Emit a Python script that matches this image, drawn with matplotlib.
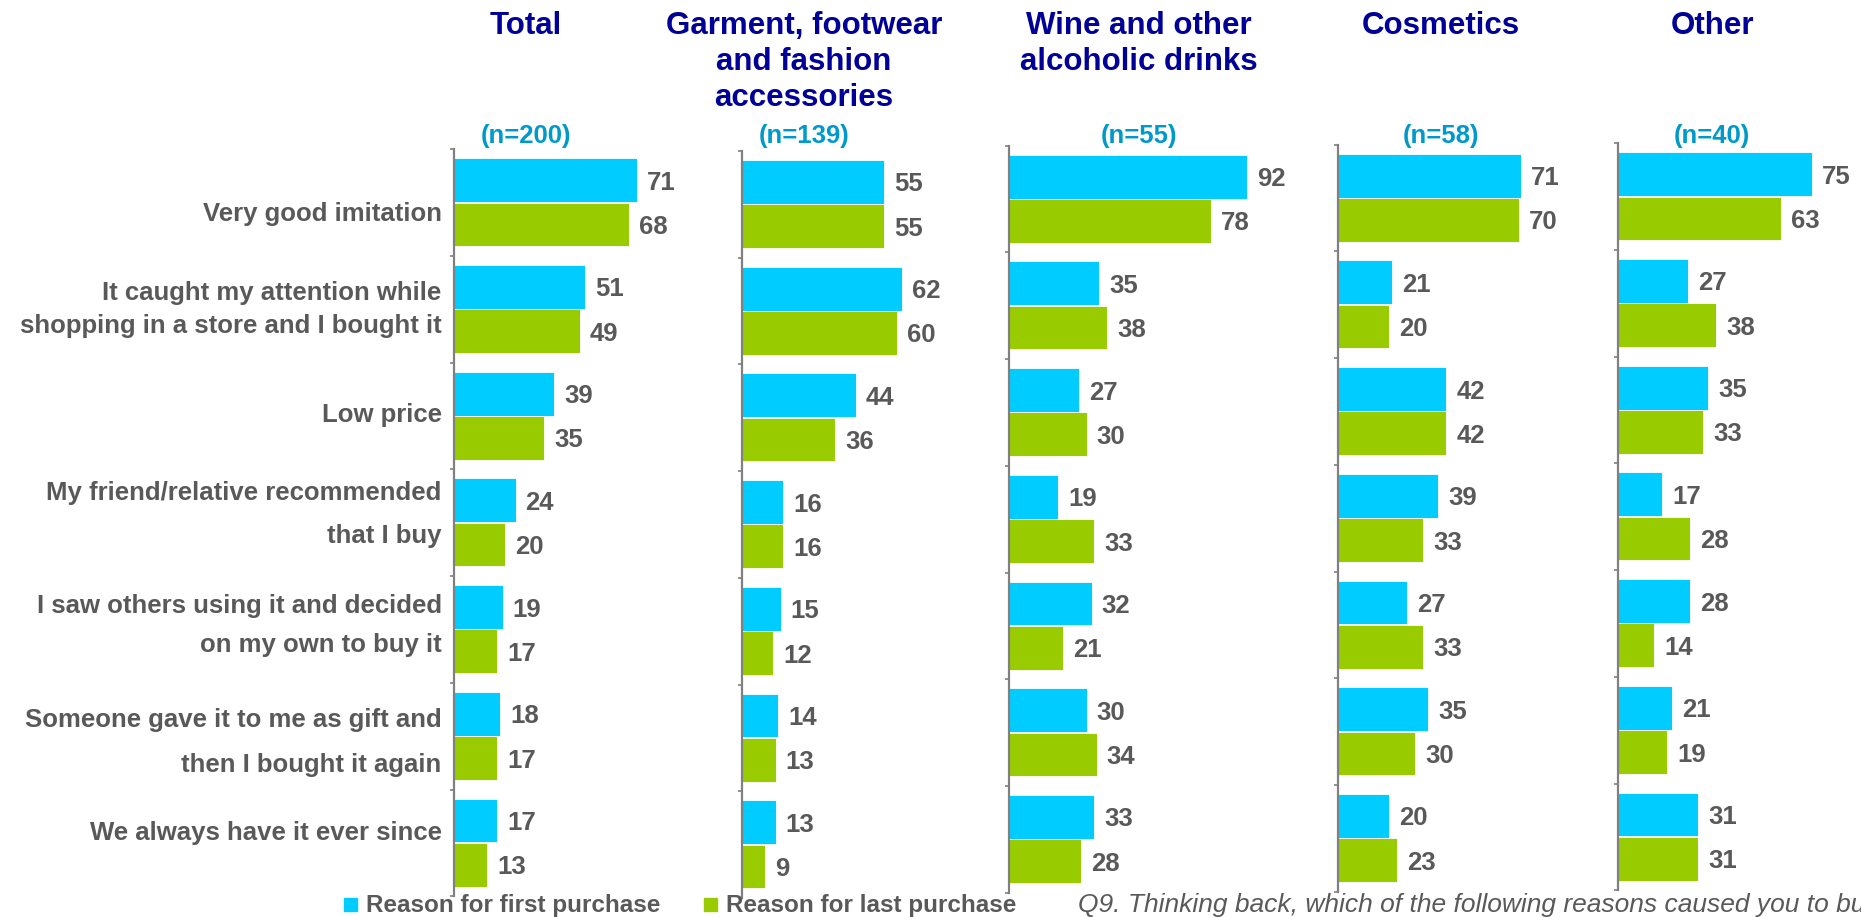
import numpy as np
import matplotlib
matplotlib.use("Agg")
import matplotlib.pyplot as plt
from matplotlib.patches import Rectangle

plt.rcParams["font.family"] = ["Liberation Sans", "DejaVu Sans"]

# ── Data ─────────────────────────────────────────────────────────────
REASONS = [
    ["Very good imitation"],
    ["It caught my attention while", "shopping in a store and I bought it"],
    ["Low price"],
    ["My friend/relative recommended", "that I buy"],
    ["I saw others using it and decided", "on my own to buy it"],
    ["Someone gave it to me as gift and", "then I bought it again"],
    ["We always have it ever since"],
]
PANELS = ["Total",
          "Garment, footwear\nand fashion\naccessories",
          "Wine and other\nalcoholic drinks",
          "Cosmetics",
          "Other"]
SAMPLE_N = [200, 139, 55, 58, 40]
FIRST = [
    [71, 51, 39, 24, 19, 18, 17],
    [55, 62, 44, 16, 15, 14, 13],
    [92, 35, 27, 19, 32, 30, 33],
    [71, 21, 42, 39, 27, 35, 20],
    [75, 27, 35, 17, 28, 21, 31],
]
LAST = [
    [68, 49, 35, 20, 17, 17, 13],
    [55, 60, 36, 16, 12, 13, 9],
    [78, 38, 30, 33, 21, 34, 28],
    [70, 20, 42, 33, 33, 30, 23],
    [63, 38, 33, 28, 14, 19, 31],
]
SERIES = ["Reason for first purchase", "Reason for last purchase"]
FOOTNOTE = "Q9. Thinking back, which of the following reasons caused you to buy counterfeit products?"

# ── Style / layout (pixels of the 1861x917 canvas) ───────────────────
BLUE, GREEN = "#00CCFF", "#99CC00"
NAVY, NBLUE, GREY = "#000099", "#0099CC", "#595959"
W, H = 1861, 917
AX_X = [453.5, 742, 1009, 1337.7, 1618]
AX_TOP = [149.3, 151, 145.7, 144.7, 143.3]
HEAD_X = [526, 804, 1139, 1441, 1712]
GROUP_PX = 106.7
PX_PER_UNIT = 2.584
AX_W = 260
LABEL_BASE = [[220.7], [300, 332.7], [421.7], [500, 542.7],
              [613.3, 651.7], [726.7, 771.7], [840]]

fig = plt.figure(figsize=(W / 100, H / 100), dpi=100)

n_rows = len(REASONS)
y = np.arange(n_rows)
for k in range(len(PANELS)):
    ax_h = n_rows * GROUP_PX
    ax = fig.add_axes([AX_X[k] / W, 1 - (AX_TOP[k] + ax_h) / H, AX_W / W, ax_h / H])
    ax.set_xlim(0, AX_W / PX_PER_UNIT)
    ax.set_ylim(n_rows, 0)
    ax.barh(y + 0.29, FIRST[k], height=0.41, color=BLUE, edgecolor="white", linewidth=0.6)
    ax.barh(y + 0.705, LAST[k], height=0.41, color=GREEN, edgecolor="white", linewidth=0.6)
    for yy, v1, v2 in zip(y, FIRST[k], LAST[k]):
        for off, v in [(0.29, v1), (0.705, v2)]:
            ax.text(v + 10 / PX_PER_UNIT, yy + off, str(v), ha="left", va="center_baseline",
                    fontsize=18.5, fontweight="bold", color=GREY)
    for s in ["top", "right", "bottom"]:
        ax.spines[s].set_visible(False)
    ax.spines["left"].set_color("#808080")
    ax.spines["left"].set_linewidth(1.6)
    ax.set_xticks([])
    ax.set_yticks(np.arange(n_rows + 1))
    ax.set_yticklabels([])
    ax.tick_params(axis="y", length=3, width=1.2, color="#808080", direction="out")

    fig.text(HEAD_X[k] / W, 1 - 11 / H, PANELS[k], ha="center", va="top",
             fontsize=22.5, fontweight="bold", color=NAVY, linespacing=1.27)
    fig.text(HEAD_X[k] / W, 1 - 143 / H, f"(n={SAMPLE_N[k]})", ha="center", va="baseline",
             fontsize=18.5, fontweight="bold", color=NBLUE)

# category labels, one text per line
for lines, bases in zip(REASONS, LABEL_BASE):
    for line, b in zip(lines, bases):
        fig.text(441.7 / W, 1 - b / H, line, ha="right", va="baseline",
                 fontsize=18.5, fontweight="bold", color=GREY)

# legend
for (sx, tx), col, lab in zip([(344, 366), (704, 726)], [BLUE, GREEN], SERIES):
    fig.patches.append(Rectangle((sx / W, 1 - 911 / H), 13 / W, 13 / H,
                                 transform=fig.transFigure, color=col))
    fig.text(tx / W, 1 - 911.7 / H, lab, ha="left", va="baseline",
             fontsize=17.5, fontweight="bold", color=GREY)

fig.text(1078 / W, 1 - 911.7 / H, FOOTNOTE, ha="left", va="baseline",
         fontsize=19, style="italic", color=GREY)

fig.savefig("out.png", dpi=100)
